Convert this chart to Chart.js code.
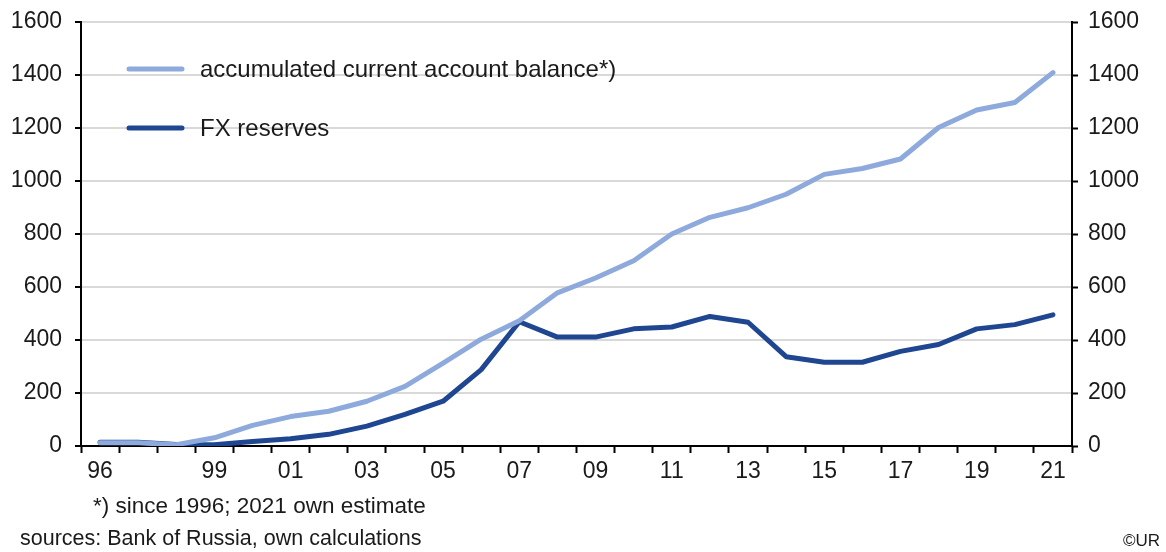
<!DOCTYPE html>
<html>
<head>
<meta charset="utf-8">
<script src="https://cdn.jsdelivr.net/npm/chart.js@4/dist/chart.umd.min.js"></script>
<style>
  html, body { margin: 0; padding: 0; background: #fff; }
  #wrap { width: 1166px; height: 552px; position: relative; }
</style>
</head>
<body>
<div id="wrap"><canvas id="chart" width="1166" height="552"></canvas></div>
<script>
// years 1996..2021
const years = ['96','97','98','99','00','01','02','03','04','05','06','07','08',
               '09','10','11','12','13','14','15','16','17','18','19','20','21'];
// only these get a label on the x axis
const shownYears = ['96','99','01','03','05','07','09','11','13','15','17','19','21'];

// USD bn
const accCurrentAccount = [12, 12, 5, 31, 78, 111, 131, 169, 225, 313, 403, 473, 578,
                           634, 699, 800, 863, 899, 950, 1025, 1047, 1083, 1202, 1268, 1296, 1409];
const fxReserves = [14, 14, 6, 5, 17, 27, 44, 75, 119, 169, 288, 469, 411,
                    411, 442, 449, 489, 467, 337, 316, 316, 357, 383, 442, 458, 495];

const yTicksMax = 1600;
const yTickStep = 200;

const footNote = '*) since 1996; 2021 own estimate';
const sourceNote = 'sources: Bank of Russia, own calculations';
const copyNote = '\u00A9UR';

const FONT = '"Liberation Sans", Arial, sans-serif';
const TXT = '#1a1a1a';

// legend inside the plot + notes under the chart
const extrasPlugin = {
  id: 'extras',
  afterDraw(chart) {
    const c = chart.ctx;
    c.save();
    c.font = '24px ' + FONT;
    c.fillStyle = TXT;
    c.textBaseline = 'middle';
    c.lineCap = 'round';
    const rows = [69, 128];
    chart.data.datasets.forEach((ds, i) => {
      c.strokeStyle = ds.borderColor;
      c.lineWidth = 5;
      c.beginPath();
      c.moveTo(129, rows[i]);
      c.lineTo(182, rows[i]);
      c.stroke();
      c.fillText(ds.label, 200, rows[i] + 1);
    });

    c.textBaseline = 'alphabetic';
    c.font = '22.5px ' + FONT;
    c.fillText(footNote, 93, 513);
    c.font = '21.5px ' + FONT;
    c.fillText(sourceNote, 20, 545);
    c.font = '17px ' + FONT;
    c.textAlign = 'right';
    c.fillText(copyNote, 1160, 546);
    c.restore();
  }
};

const tickFont = { family: FONT, size: 23 };
const plainNum = v => String(v);

// fixed axis boxes so the plot area lands at x 81..1072, y 22..446
function fitY(width) {
  return s => {
    s.width = width;
    s.paddingTop = 0;
    s.paddingBottom = 0;
  };
}

new Chart(document.getElementById('chart'), {
  type: 'line',
  data: {
    labels: years,
    datasets: [
      {
        label: 'accumulated current account balance*)',
        data: accCurrentAccount,
        borderColor: '#8eaadc',
        borderWidth: 5,
        pointRadius: 0,
        tension: 0,
        borderCapStyle: 'round',
        borderJoinStyle: 'round',
        yAxisID: 'y'
      },
      {
        label: 'FX reserves',
        data: fxReserves,
        borderColor: '#1f4690',
        borderWidth: 5,
        pointRadius: 0,
        tension: 0,
        borderCapStyle: 'round',
        borderJoinStyle: 'round',
        yAxisID: 'y'
      }
    ]
  },
  options: {
    responsive: false,
    animation: false,
    layout: { padding: { top: 22, left: 0, right: 0, bottom: 0 } },
    plugins: {
      legend: { display: false },
      tooltip: { enabled: false }
    },
    scales: {
      x: {
        offset: true,
        grid: {
          offset: true,
          drawOnChartArea: false,
          drawTicks: true,
          tickLength: 7,
          tickColor: '#000',
          tickWidth: 2
        },
        border: { color: '#000', width: 2 },
        ticks: {
          autoSkip: false,
          maxRotation: 0,
          padding: 5,
          color: TXT,
          font: tickFont,
          callback(v, i) {
            const lab = years[i];
            return shownYears.includes(lab) ? lab : '';
          }
        },
        afterFit(s) { s.height = 552 - 446; s.paddingLeft = 0; s.paddingRight = 0; }
      },
      y: {
        position: 'left',
        min: 0,
        max: yTicksMax,
        grid: {
          color: '#d9d9d9',
          lineWidth: 2,
          tickLength: 6,
          tickColor: '#000',
          tickWidth: 2
        },
        border: { color: '#000', width: 2 },
        ticks: { stepSize: yTickStep, padding: 13, color: TXT, font: tickFont, callback: plainNum },
        afterFit: fitY(81)
      },
      y2: {
        position: 'right',
        min: 0,
        max: yTicksMax,
        grid: {
          drawOnChartArea: false,
          tickLength: 6,
          tickColor: '#000',
          tickWidth: 2
        },
        border: { color: '#000', width: 2 },
        ticks: { stepSize: yTickStep, padding: 10, color: TXT, font: tickFont, callback: plainNum },
        afterFit: fitY(1166 - 1072)
      }
    }
  },
  plugins: [extrasPlugin]
});
</script>
</body>
</html>
